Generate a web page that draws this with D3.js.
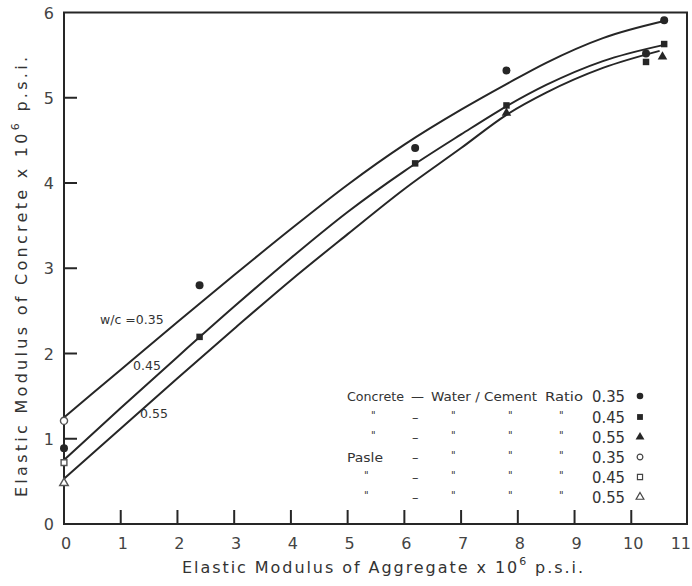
<!DOCTYPE html>
<html>
<head>
<meta charset="utf-8">
<script src="https://cdn.jsdelivr.net/npm/d3@7"></script>
<style>
  body { margin: 0; background: #fff; }
  text { font-family: "DejaVu Sans", sans-serif; fill: #333; }
</style>
</head>
<body>
<div id="chart"></div>
<script>
// fitted curves, one per water/cement ratio
var curve035 = [[0,1.25],[1,1.81],[2,2.37],[3,2.92],[4,3.46],[5,3.98],[6,4.45],[7,4.86],[7.8,5.16],[8.5,5.41],[9.5,5.70],[10.58,5.90]];
var curve045 = [[0,0.75],[1,1.36],[2,1.96],[3,2.55],[4,3.12],[5,3.66],[6,4.14],[7,4.57],[7.8,4.90],[8.5,5.15],[9.5,5.43],[10.58,5.62]];
var curve055 = [[0,0.53],[1,1.12],[2,1.71],[3,2.29],[4,2.86],[5,3.40],[6,3.93],[7,4.41],[7.8,4.80],[8.5,5.06],[9.5,5.35],[10.5,5.55]];
var curveLabels = ["w/c =0.35", "0.45", "0.55"];

// measured points
var concrete035 = [[0,0.89],[2.39,2.80],[6.19,4.41],[7.80,5.32],[10.26,5.52],[10.58,5.91]];
var concrete045 = [[2.39,2.195],[6.19,4.23],[7.80,4.91],[10.26,5.42],[10.58,5.63]];
var concrete055 = [[7.80,4.82],[10.55,5.48]];
var paste035 = [[0,1.21]];
var paste045 = [[0,0.72]];
var paste055 = [[0,0.48]];

var xTicks = [0,1,2,3,4,5,6,7,8,9,10,11];
var yTicks = [0,1,2,3,4,5,6];
var legendRatios = ["0.35","0.45","0.55","0.35","0.45","0.55"];

var W = 692, H = 586;
var x = d3.scaleLinear().domain([0, 11]).range([64, 688]);
var y = d3.scaleLinear().domain([0, 6]).range([524, 12.5]);
var ink = "#262626";

var svg = d3.select("#chart").append("svg")
    .attr("width", W).attr("height", H);

// frame
svg.append("path")
    .attr("d", "M" + x(0) + "," + y(6) + "H687V" + y(0) + "H" + x(0) + "Z")
    .attr("fill", "none").attr("stroke", ink).attr("stroke-width", 2);

// inward ticks
svg.append("g").selectAll("line")
    .data(xTicks.filter(function(d) { return d > 0 && d < 11; }))
    .enter().append("line")
    .attr("x1", function(d) { return x(d); }).attr("x2", function(d) { return x(d); })
    .attr("y1", y(0)).attr("y2", y(0) - 14)
    .attr("stroke", ink).attr("stroke-width", 2);
svg.append("g").selectAll("line")
    .data(yTicks.filter(function(d) { return d > 0 && d < 6; }))
    .enter().append("line")
    .attr("x1", x(0)).attr("x2", x(0) + 13)
    .attr("y1", function(d) { return y(d); }).attr("y2", function(d) { return y(d); })
    .attr("stroke", ink).attr("stroke-width", 2);

// tick labels
svg.append("g").selectAll("text")
    .data(xTicks).enter().append("text")
    .attr("x", function(d) { return d == 11 ? 691 : x(d) + 2; })
    .attr("y", 549)
    .attr("text-anchor", function(d) { return d == 11 ? "end" : "middle"; })
    .style("font-size", "16px").style("fill", "#444")
    .text(function(d) { return d; });
svg.append("g").selectAll("text")
    .data(yTicks).enter().append("text")
    .attr("x", 54)
    .attr("y", function(d) { return y(d) + 6; })
    .attr("text-anchor", "end")
    .style("font-size", "16px").style("fill", "#444")
    .text(function(d) { return d; });

// axis titles
var xt = svg.append("text")
    .attr("x", 182).attr("y", 573)
    .attr("textLength", 401).attr("lengthAdjust", "spacing")
    .style("font-size", "16px");
xt.append("tspan").text("Elastic Modulus of Aggregate x 10");
xt.append("tspan").attr("dy", -8).style("font-size", "11px").text("6");
xt.append("tspan").attr("dy", 8).text(" p.s.i.");

var yt = svg.append("text")
    .attr("transform", "translate(27,497) rotate(-90)")
    .attr("textLength", 440).attr("lengthAdjust", "spacing")
    .style("font-size", "16px");
yt.append("tspan").text("Elastic Modulus of Concrete x 10");
yt.append("tspan").attr("dy", -8).style("font-size", "11px").text("6");
yt.append("tspan").attr("dy", 8).text(" p.s.i.");

// curves
var line = d3.line()
    .x(function(d) { return x(d[0]); })
    .y(function(d) { return y(d[1]); })
    .curve(d3.curveMonotoneX);
svg.append("g").selectAll("path")
    .data([curve035, curve045, curve055])
    .enter().append("path")
    .attr("d", line)
    .attr("fill", "none").attr("stroke", ink).attr("stroke-width", 2);

// curve labels
var labelPos = [[100, 324], [133, 370], [140, 418]];
svg.append("g").selectAll("text")
    .data(curveLabels).enter().append("text")
    .attr("x", function(d, i) { return labelPos[i][0]; })
    .attr("y", function(d, i) { return labelPos[i][1]; })
    .style("font-size", "12.5px")
    .text(function(d) { return d; });

// markers
function drawPoints(data, kind, filled) {
    var g = svg.append("g");
    var sel = g.selectAll("path").data(data).enter().append("path")
        .attr("transform", function(d) { return "translate(" + x(d[0]) + "," + y(d[1]) + ")"; });
    var size = kind == "circle" ? 50 : kind == "square" ? 42 : 40;
    var type = kind == "circle" ? d3.symbolCircle : kind == "square" ? d3.symbolSquare : d3.symbolTriangle;
    sel.attr("d", d3.symbol().type(type).size(filled ? size : size * 0.8))
        .attr("fill", filled ? ink : "#fff")
        .attr("stroke", filled ? "none" : "#555")
        .attr("stroke-width", 1.4);
}
drawPoints(paste035, "circle", false);
drawPoints(paste045, "square", false);
drawPoints(paste055, "triangle", false);
drawPoints(concrete035, "circle", true);
drawPoints(concrete045, "square", true);
drawPoints(concrete055, "triangle", true);

// legend
var legRows = [396, 417, 437, 457, 477, 497];
var legendMarks = [["circle",true],["square",true],["triangle",true],["circle",false],["square",false],["triangle",false]];
var leg = svg.append("g").style("font-size", "13px");
function legText(tx, ty, str, len) {
    return leg.append("text").attr("x", tx).attr("y", ty)
        .attr("textLength", len).attr("lengthAdjust", "spacingAndGlyphs").text(str);
}
legText(347, legRows[0] + 5, "Concrete", 57);
leg.append("text").attr("x", 411).attr("y", legRows[0] + 5).text("—");
legText(431, legRows[0] + 5, "Water / Cement", 106);
legText(545, legRows[0] + 5, "Ratio", 38);
legText(347, legRows[3] + 5, "Pasle", 36);
legRows.forEach(function(ry, i) {
    if (i > 0) {
        if (i != 3) leg.append("text").attr("x", i < 3 ? 371 : 364).attr("y", ry + 2)
            .style("font-size", "10px").text("\"");
        leg.append("text").attr("x", 412).attr("y", ry + 5).text("–");
        [451, 508, 559].forEach(function(cx) {
            leg.append("text").attr("x", cx).attr("y", ry + 2)
                .style("font-size", "10px").text("\"");
        });
    }
    legText(592, ry + 6, legendRatios[i], 33).style("font-size", "15px");
    var m = legendMarks[i];
    var type = m[0] == "circle" ? d3.symbolCircle : m[0] == "square" ? d3.symbolSquare : d3.symbolTriangle;
    leg.append("path")
        .attr("transform", "translate(640," + ry + ")")
        .attr("d", d3.symbol().type(type).size(m[1] ? 34 : 26))
        .attr("fill", m[1] ? ink : "#fff")
        .attr("stroke", m[1] ? "none" : "#444")
        .attr("stroke-width", 1.2);
});
</script>
</body>
</html>
